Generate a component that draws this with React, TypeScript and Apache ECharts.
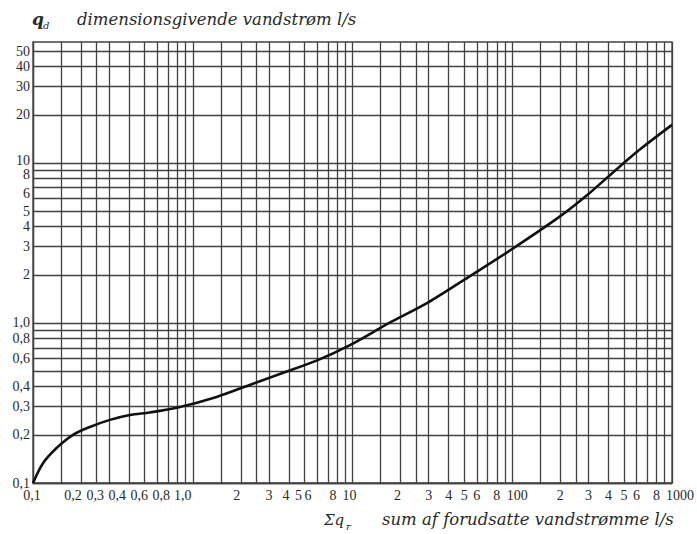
import React, { useEffect, useRef } from 'react';
import * as echarts from 'echarts';

// Curve (log-log nomogram)
const sumFlow = [0.1, 0.1155, 0.141, 0.178, 0.227, 0.303, 0.404, 0.538, 0.794, 1.41, 2.27, 3.65, 5.96, 9.57, 17, 30, 56, 100, 197, 300, 420, 620, 1000];
const designFlow = [0.1, 0.133, 0.166, 0.2, 0.224, 0.248, 0.266, 0.276, 0.295, 0.345, 0.41, 0.487, 0.582, 0.725, 1.0, 1.35, 2.0, 2.9, 4.6, 6.4, 8.6, 12.0, 17.3];

// Grid line values
const xMantissas = [1, 1.5, 2, 2.5, 3, 4, 5, 6, 7, 8, 9];
const xDecades = [0.1, 1, 10, 100];
const xLast = [1000];
const yMantissas = [1, 2, 3, 4, 5, 6, 7, 8, 9];
const yDecades = [0.1, 1];
const yTop = [10, 20, 30, 40, 50];

// Tick labels
const xLabelValues = [0.1, 0.2, 0.3, 0.4, 0.6, 0.8, 1, 2, 3, 4, 5, 6, 8, 10, 20, 30, 40, 50, 60, 80, 100, 200, 300, 400, 500, 600, 800, 1000];
const xLabelTexts = ['0,1', '0,2', '0,3', '0,4', '0,6', '0,8', '1,0', '2', '3', '4', '5', '6', '8', '10', '2', '3', '4', '5', '6', '8', '100', '2', '3', '4', '5', '6', '8', '1000'];
const yLabelValues = [0.1, 0.2, 0.3, 0.4, 0.6, 0.8, 1, 2, 3, 4, 5, 6, 8, 10, 20, 30, 40, 50];
const yLabelTexts = ['0,1', '0,2', '0,3', '0,4', '0,6', '0,8', '1,0', '2', '3', '4', '5', '6', '8', '10', '20', '30', '40', '50'];

// Label nudges (style only, px): horizontal for x labels, vertical (up +) for y labels
const xLabelNudge = [-1, -8, -14, -12, -18, -16, -10, -4, 0, -3, -6, -9, -4, -3, -3, 0, 0, 0, 0, 0, 5, 0, 0, 0, 0, 0, 0, 8];
const yLabelNudge = [0, 0, 0, 0, 0, 0, 0, 0, 0, 0, 0, 5, 4, 2, 0, 0, 0, 0];

const round = (v: number) => parseFloat(v.toPrecision(6));
const xGrid = xDecades.flatMap(d => xMantissas.map(m => round(m * d))).concat(xLast);
const yGrid = yDecades.flatMap(d => yMantissas.map(m => round(m * d))).concat(yTop);

const findIdx = (vals: number[], v: number) => vals.findIndex(t => Math.abs(t - v) / t < 1e-4);

export default function App() {
  const ref = useRef<HTMLDivElement>(null);
  useEffect(() => {
    const chart = echarts.init(ref.current!, null, { renderer: 'svg' });
    const gridColor = '#424242';
    const labelFont = 'Liberation Serif';
    const titleFont = 'DejaVu Serif';
    const textColor = '#2a2a2a';
    const lineW = 1.3;
    const xBase = { fontFamily: labelFont, fontSize: 14, color: textColor };
    const yBase = { fontFamily: labelFont, fontSize: 14, color: textColor };
    const xRich: Record<string, any> = {};
    xLabelNudge.forEach((s, i) => {
      xRich['k' + i] = { ...xBase, padding: s < 0 ? [0, -2 * s, 0, 0] : [0, 0, 0, 2 * s] };
    });
    const yRich: Record<string, any> = {};
    yLabelNudge.forEach((s, i) => {
      yRich['k' + i] = { ...yBase, padding: s > 0 ? [0, 0, 2 * s, 0] : [-2 * s, 0, 0, 0] };
    });
    chart.setOption({
      animation: false,
      backgroundColor: '#ffffff',
      grid: { left: 33, right: 24, top: 42, bottom: 51, containLabel: false, show: true, borderColor: gridColor, borderWidth: lineW },
      xAxis: {
        type: 'log', logBase: 10, min: 0.1, max: 1000,
        axisLine: { show: true, lineStyle: { color: gridColor, width: lineW } },
        axisTick: { show: false, customValues: xGrid },
        splitLine: { show: true, lineStyle: { color: gridColor, width: lineW } },
        axisLabel: {
          customValues: xLabelValues,
          formatter: (v: number) => {
            const i = findIdx(xLabelValues, v);
            return i >= 0 ? `{k${i}|${xLabelTexts[i]}}` : '';
          },
          rich: xRich,
          margin: 5, ...xBase,
          showMinLabel: true, showMaxLabel: true, hideOverlap: false,
        },
      },
      yAxis: {
        type: 'log', logBase: 10, min: 0.1, max: 57,
        axisLine: { show: true, lineStyle: { color: gridColor, width: lineW } },
        axisTick: { show: false, customValues: yGrid },
        splitLine: { show: true, lineStyle: { color: gridColor, width: lineW } },
        axisLabel: {
          customValues: yLabelValues,
          formatter: (v: number) => {
            const i = findIdx(yLabelValues, v);
            return i >= 0 ? `{k${i}|${yLabelTexts[i]}}` : '';
          },
          rich: yRich,
          margin: 3, ...yBase,
          showMinLabel: true, showMaxLabel: true, hideOverlap: false,
        },
      },
      series: [{
        type: 'line',
        data: sumFlow.map((x, i) => [x, designFlow[i]]),
        smooth: 0.3,
        symbol: 'none',
        lineStyle: { color: '#111111', width: 2.6 },
        z: 10,
      }],
      graphic: [
        { type: 'text', left: 32, top: 10, style: { text: 'q', font: `italic bold 17px ${titleFont}`, fill: textColor } },
        { type: 'text', left: 43, top: 20, style: { text: 'd', font: `italic 10px ${titleFont}`, fill: textColor } },
        { type: 'text', left: 77, top: 11, style: { text: 'dimensionsgivende vandstrøm l/s', font: `italic 16.5px ${titleFont}`, fill: textColor } },
        { type: 'text', left: 324, top: 512, style: { text: 'Σq', font: `italic 15px ${titleFont}`, fill: textColor } },
        { type: 'text', left: 346, top: 521, style: { text: 'r', font: `italic 10px ${titleFont}`, fill: textColor } },
        { type: 'text', left: 382, top: 511, style: { text: 'sum af forudsatte vandstrømme l/s', font: `italic 16.5px ${titleFont}`, fill: textColor } },
      ],
    });
    return () => chart.dispose();
  }, []);
  return <div ref={ref} style={{ position: 'absolute', left: 0, top: 0, width: 697, height: 534 }} />;
}
